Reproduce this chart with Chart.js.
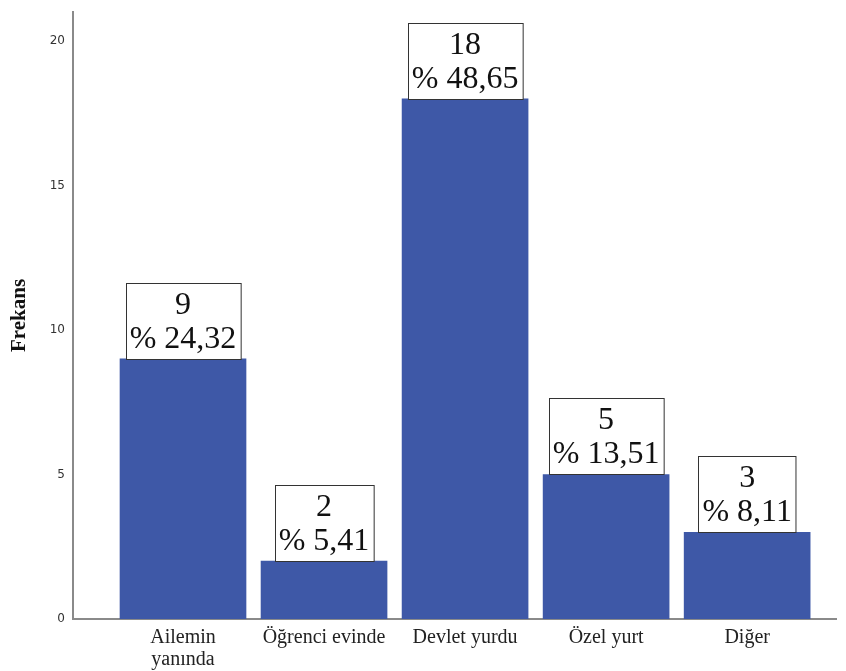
<!DOCTYPE html>
<html>
<head>
<meta charset="utf-8">
<script src="https://cdn.jsdelivr.net/npm/chart.js@4/dist/chart.umd.min.js"></script>
<style>
  html, body { margin: 0; padding: 0; background: #fff; }
  #wrap { width: 846px; height: 671px; }
</style>
</head>
<body>
<div id="wrap"><canvas id="chart" width="846" height="671"></canvas></div>
<script>
const categories = [["Ailemin", "yanında"], "Öğrenci evinde", "Devlet yurdu", "Özel yurt", "Diğer"];
const counts = [9, 2, 18, 5, 3];
const percents = ["24,32", "5,41", "48,65", "13,51", "8,11"];
const yTicks = [0, 5, 10, 15, 20];

// boxed "count / % percent" labels above each bar
const boxLabels = {
  id: "boxLabels",
  afterDatasetsDraw(chart) {
    const ctx = chart.ctx;
    const meta = chart.getDatasetMeta(0);
    ctx.save();
    ctx.font = "32px 'Liberation Serif', 'Times New Roman', serif";
    ctx.textAlign = "center";
    ctx.textBaseline = "alphabetic";
    meta.data.forEach((bar, i) => {
      const lines = [String(counts[i]), "% " + percents[i]];
      const w = Math.max(...lines.map(t => ctx.measureText(t).width)) + 8;
      const h = 76;
      const left = Math.round(bar.x - w / 2) + 0.5;
      const top = Math.round(bar.y - h) + 0.5;
      ctx.fillStyle = "#fff";
      ctx.fillRect(left, top, w, h);
      ctx.strokeStyle = "#333";
      ctx.lineWidth = 1;
      ctx.strokeRect(left, top, w, h);
      ctx.fillStyle = "#111";
      ctx.fillText(lines[0], bar.x, top + 30);
      ctx.fillText(lines[1], bar.x, top + 64);
    });
    ctx.restore();
  }
};

const ctx = document.getElementById("chart").getContext("2d");

new Chart(ctx, {
  type: "bar",
  data: {
    datasets: [{
      data: counts.map((v, i) => ({ x: i + 1, y: v })),
      backgroundColor: "rgb(62, 88, 167)",
      barThickness: 126
    }]
  },
  options: {
    responsive: false,
    animation: false,
    layout: { padding: { top: 12, right: 10, left: 0, bottom: 0 } },
    plugins: {
      legend: { display: false },
      tooltip: { enabled: false }
    },
    scales: {
      x: {
        type: "linear",
        min: 0.22,
        max: 5.63,
        offset: false,
        afterBuildTicks: s => { s.ticks = categories.map((c, i) => ({ value: i + 1 })); },
        afterFit: s => { s.height = 52; s.paddingLeft = 0; s.paddingRight = 0; },
        grid: { display: false, drawTicks: false },
        border: { display: true, color: "#8a8a8a", width: 2 },
        ticks: {
          padding: 8,
          maxRotation: 0,
          autoSkip: false,
          color: "#222",
          font: { family: "'Liberation Serif', 'Times New Roman', serif", size: 20, lineHeight: 1.1 },
          callback: v => categories[v - 1]
        }
      },
      y: {
        min: 0,
        max: 21,
        afterBuildTicks: s => { s.ticks = yTicks.map(v => ({ value: v })); },
        afterFit: s => { s.width = 73; s.paddingTop = 0; s.paddingBottom = 0; },
        grid: { display: false, drawTicks: false },
        border: { display: true, color: "#8a8a8a", width: 2 },
        ticks: {
          padding: 8,
          color: "#333",
          font: { family: "'DejaVu Sans', sans-serif", size: 12 }
        },
        title: {
          display: true,
          text: "Frekans",
          color: "#111",
          padding: { top: 7, bottom: 0 },
          font: { family: "'Liberation Serif', 'Times New Roman', serif", size: 21, weight: "bold" }
        }
      }
    }
  },
  plugins: [boxLabels]
});
</script>
</body>
</html>
